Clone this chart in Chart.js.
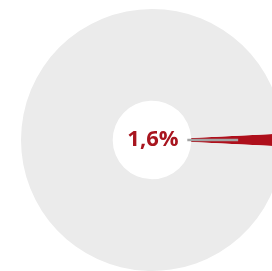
<!DOCTYPE html>
<html>
<head>
<meta charset="utf-8">
<script src="https://cdn.jsdelivr.net/npm/chart.js@4/dist/chart.umd.min.js"></script>
<style>
  html, body { margin: 0; padding: 0; background: #ffffff; overflow: hidden; }
  #wrap { position: relative; width: 304px; height: 280px; }
</style>
</head>
<body>
<div id="wrap"><canvas id="shareChart"></canvas></div>
<script>
var labels = ["Anteil", "Rest"];
var values = [1.6, 98.4];
var colors = ["#ae0f1b", "#ebebeb"];
var centerLabel = "1,6%";

var total = values[0] + values[1];
var startRotation = 90 - (values[0] / total) * 360 / 2;

// center text + leader line pointing at the small slice
var centerPlugin = {
    id: "centerPlugin",
    afterDatasetsDraw: function (chart) {
        var arc = chart.getDatasetMeta(0).data[0];
        if (!arc) return;
        var ctx = chart.ctx;
        var mid = (arc.startAngle + arc.endAngle) / 2;
        var r0 = arc.innerRadius - 4;
        var r1 = (arc.innerRadius + arc.outerRadius) / 2 + 1;

        ctx.save();
        ctx.strokeStyle = "#a3a3a3";
        ctx.lineWidth = 2.5;
        ctx.beginPath();
        ctx.moveTo(arc.x + Math.cos(mid) * r0, arc.y + Math.sin(mid) * r0);
        ctx.lineTo(arc.x + Math.cos(mid) * r1, arc.y + Math.sin(mid) * r1);
        ctx.stroke();

        ctx.fillStyle = "#a8151f";
        ctx.font = "bold 22px 'Open Sans', 'DejaVu Sans', sans-serif";
        ctx.textAlign = "center";
        ctx.textBaseline = "middle";
        ctx.fillText(centerLabel, arc.x + 1, arc.y);
        ctx.restore();
    }
};

new Chart(document.getElementById("shareChart"), {
    type: "doughnut",
    data: {
        labels: labels,
        datasets: [{
            data: values,
            backgroundColor: colors,
            borderWidth: 0
        }]
    },
    options: {
        responsive: true,
        maintainAspectRatio: false,
        animation: false,
        cutout: "30%",
        rotation: startRotation,
        layout: { padding: 9 },
        plugins: {
            legend: { display: false },
            tooltip: { enabled: false }
        }
    },
    plugins: [centerPlugin]
});
</script>
</body>
</html>
